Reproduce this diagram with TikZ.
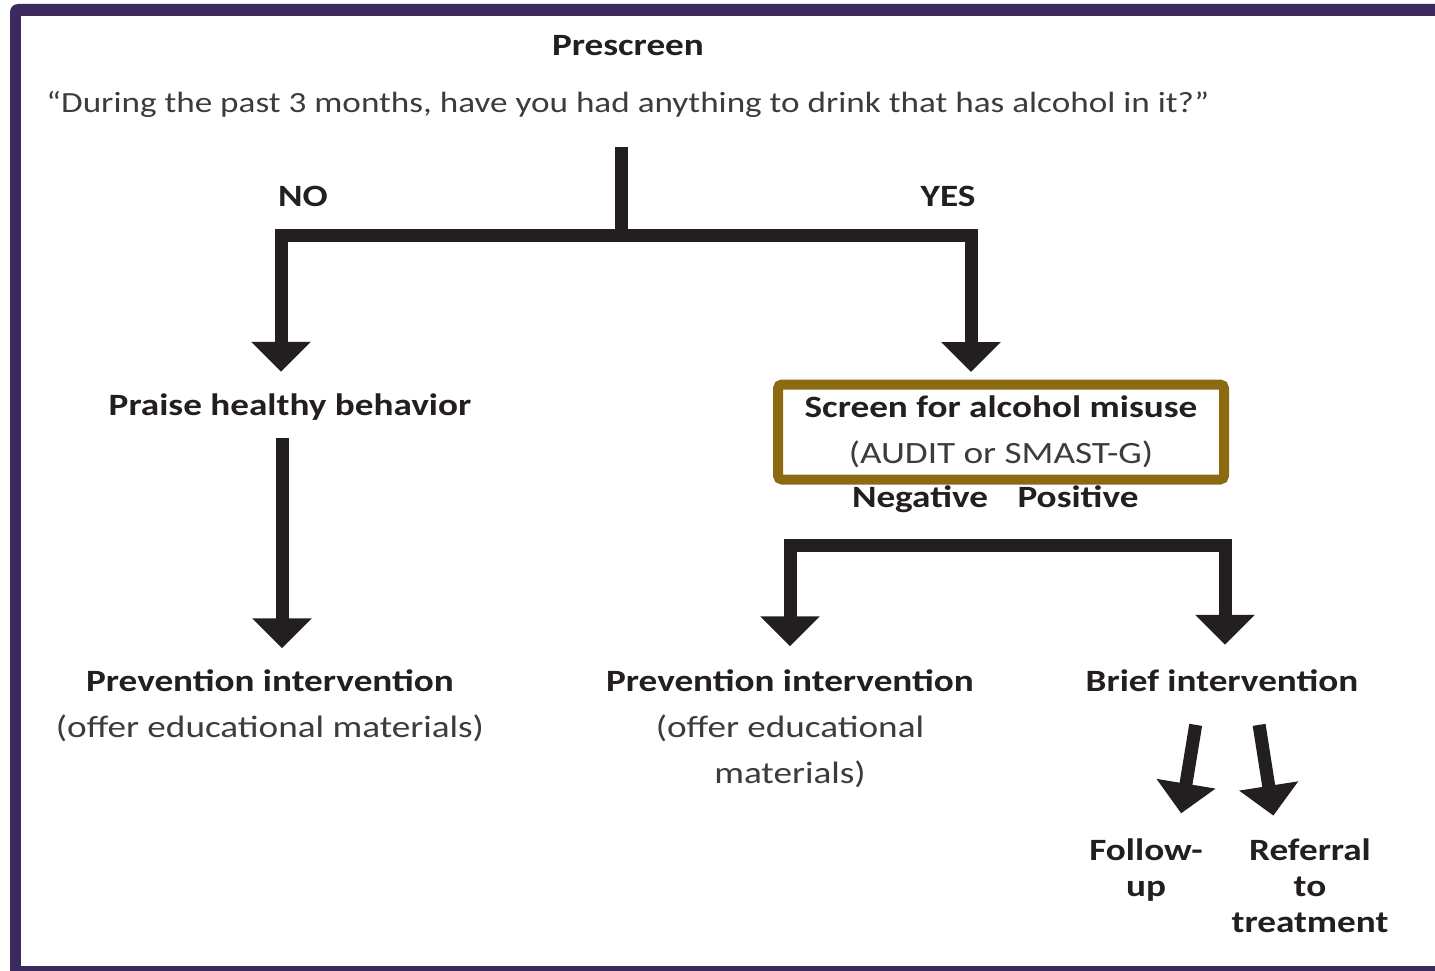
\documentclass[tikz,border=0pt]{standalone}
\usepackage{fontspec}
\setmainfont{Carlito}[FakeStretch=1.2]
\usepackage{tikz}
\usetikzlibrary{arrows.meta}
\definecolor{framepurple}{HTML}{3B2A5E}
\definecolor{boxgold}{HTML}{8C6A12}
\definecolor{inkblack}{HTML}{231F20}
\definecolor{textgray}{HTML}{3C3C3C}
\tikzset{>={Triangle[width=58pt,length=30pt]}}
\tikzset{
  flow/.style={draw=inkblack, line width=13pt, line join=miter},   % thick bars
  flowarrow/.style={flow, ->},
  plaintext/.style={inner sep=0pt, text=textgray, font=\fontsize{31}{46}\selectfont,
                    text height=22pt, text depth=7pt},
  boldtext/.style={plaintext, text=inkblack, font=\fontsize{31}{46}\selectfont\bfseries},
  multiline/.style={inner sep=0pt, text=textgray, align=center, font=\fontsize{31}{46}\selectfont},
  tightlines/.style={inner sep=0pt, text=inkblack, align=center, font=\fontsize{31}{36}\selectfont\bfseries},
  screenbox/.style={multiline, draw=boxgold, line width=10pt, rounded corners=4pt,
                    minimum width=446pt, minimum height=95pt}
}
\newcommand\hd[1]{{\color{inkblack}\bfseries #1}}
\begin{document}
\begin{tikzpicture}[x=1pt,y=-1pt]
  \useasboundingbox (0,0) rectangle (1435,971);
  % frame
  \fill[white] (0,0) rectangle (1435,971);
  \fill[framepurple, rounded corners=8pt] (10,4) rectangle (1470,990);
  \fill[white] (21,16) rectangle (1470,966);

  % prescreen question
  \node[boldtext] (prescreen) at (628,48) {Prescreen};
  \node[plaintext, font=\fontsize{29.3}{46}\selectfont] (quote) at (628,105)
       {“During the past 3 months, have you had anything to drink that has alcohol in it?”};
  \coordinate (split) at (621,235);
  \draw[flow, shorten <=27.5pt] (quote.south -| split) -- (split);
  \node[boldtext] (no) at (303,199) {NO};
  \node[boldtext] (yes) at (948,199) {YES};

  % NO branch
  \node[boldtext] (praise) at (290,408) {Praise healthy behavior};
  \draw[flowarrow, shorten >=21.5pt] (split) -| ([xshift=-9pt]praise.north);
  \node[multiline] (prevleft) at (270,706)
       {\hd{Prevention intervention}\\(offer educational materials)};
  \draw[flowarrow, shorten <=15.5pt, shorten >=21.5pt]
       ([xshift=-8pt]praise.south) -- ([xshift=-8pt]praise.south |- prevleft.north);

  % YES branch
  \node[screenbox] (screen) at (1001,432)
       {\hd{Screen for alcohol misuse}\\(AUDIT or SMAST-G)};
  \draw[flowarrow, shorten >=7.5pt] (split) -| ([xshift=-30pt]screen.north);
  \node[boldtext] (negative) at (920,500) {Negative};
  \node[boldtext] (positive) at (1078,500) {Positive};

  % screening result
  \coordinate (split2) at (1008,545);
  \node[multiline] (prevright) at (790,729)
       {\hd{Prevention intervention}\\(offer educational\\materials)};
  \node[boldtext] (brief) at (1222,684) {Brief intervention};
  \draw[flow, <->, shorten <=23.5pt, shorten >=24.5pt]
       (prevright.north) |- (split2) -| ([xshift=3pt]brief.north);

  % after brief intervention
  \node[tightlines] (follow) at (1146,870) {Follow-\\up};
  \node[tightlines] (referral) at (1310,886) {Referral\\to\\treatment};
  \draw[flowarrow, shorten <=26.5pt, shorten >=25.5pt]
       ([xshift=-22pt]brief.south) -- ([xshift=31pt]follow.north);
  \draw[flowarrow, shorten <=26.5pt, shorten >=23.5pt]
       ([xshift=33pt]brief.south) -- ([xshift=-33pt]referral.north);
\end{tikzpicture}
\end{document}
